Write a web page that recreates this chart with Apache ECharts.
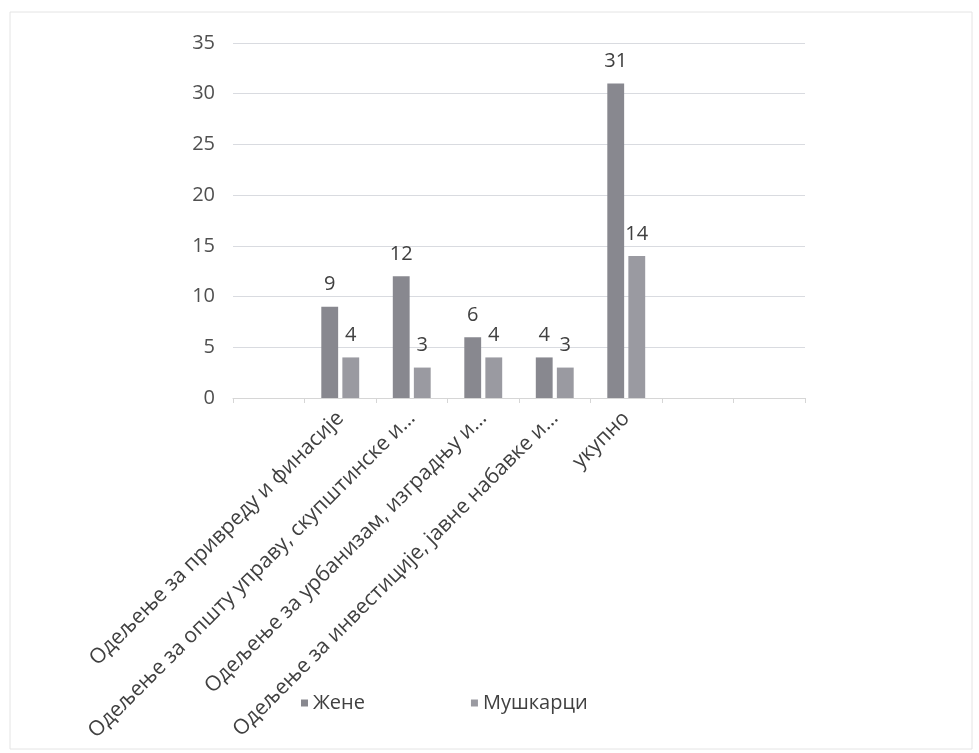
<!DOCTYPE html>
<html>
<head>
<meta charset="utf-8">
<script src="https://cdn.jsdelivr.net/npm/echarts@6/dist/echarts.min.js"></script>
<style>
  html, body { margin: 0; padding: 0; background: #fff; }
  #chart { width: 979px; height: 753px; }
</style>
</head>
<body>
<div id="chart"></div>
<script>
  // категорије (празна места као у оригиналу)
  const categories = [
    '',
    'Одељење за привреду и финасије',
    'Одељење за општу управу, скупштинске и…',
    'Одељење за урбанизам, изградњу и…',
    'Одељење за инвестиције, јавне набавке и…',
    'укупно',
    '',
    ''
  ];
  const zene = [null, 9, 12, 6, 4, 31, null, null];
  const muskarci = [null, 4, 3, 4, 3, 14, null, null];
  const yTicks = { min: 0, max: 35, interval: 5 };

  const font = '"Open Sans", "Noto Sans", sans-serif';
  const chart = echarts.init(document.getElementById('chart'));

  const labelStyle = {
    show: true,
    position: 'top',
    distance: 12,
    color: '#404040',
    fontSize: 20,
    fontFamily: font
  };

  const option = {
    animation: false,
    backgroundColor: '#fff',
    graphic: [
      {
        type: 'rect',
        shape: { x: 10, y: 12, width: 962, height: 737 },
        style: { fill: 'none', stroke: '#e4e4e4', lineWidth: 1 }
      }
    ],
    grid: { left: 233, right: 174, top: 43, bottom: 355, containLabel: false },
    legend: {
      data: ['Жене', 'Мушкарци'],
      left: 296,
      top: 688,
      icon: 'rect',
      itemWidth: 7,
      itemHeight: 7,
      itemGap: 106,
      textStyle: { color: '#404040', fontSize: 20, fontFamily: font }
    },
    xAxis: {
      type: 'category',
      data: categories,
      boundaryGap: true,
      axisLine: { lineStyle: { color: '#d6d6d6' } },
      axisTick: { show: true, length: 5, lineStyle: { color: '#d6d6d6' } },
      axisLabel: {
        interval: 0,
        rotate: 45,
        margin: 17,
        color: '#404040',
        fontSize: 21,
        fontFamily: font
      }
    },
    yAxis: {
      type: 'value',
      min: yTicks.min,
      max: yTicks.max,
      interval: yTicks.interval,
      axisLine: { show: false },
      axisTick: { show: false },
      axisLabel: { color: '#505050', fontSize: 20, fontFamily: font, margin: 18 },
      splitLine: { lineStyle: { color: '#d9dbe0' } }
    },
    series: [
      {
        name: 'Жене',
        type: 'bar',
        data: zene,
        barGap: '25%',
        barCategoryGap: '47%',
        itemStyle: { color: '#88888f' },
        label: labelStyle
      },
      {
        name: 'Мушкарци',
        type: 'bar',
        data: muskarci,
        itemStyle: { color: '#9a9aa1' },
        label: labelStyle
      }
    ]
  };

  chart.setOption(option);
</script>
</body>
</html>
